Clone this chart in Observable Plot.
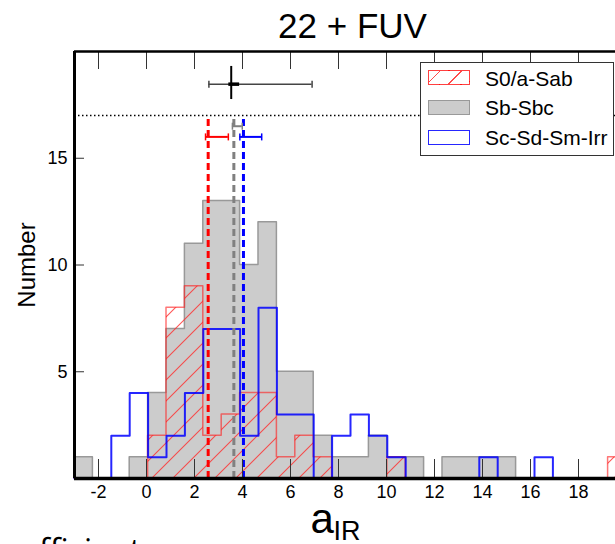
<!DOCTYPE html>
<html>
<head>
<meta charset="utf-8">
<script src="https://cdn.jsdelivr.net/npm/d3@7"></script>
<script src="https://cdn.jsdelivr.net/npm/@observablehq/plot@0.6"></script>
<style>
  html, body { margin: 0; padding: 0; background: #fff; overflow: hidden; }
  #wrap { position: relative; width: 615px; height: 544px; overflow: hidden; font-family: "Liberation Sans", Arial, sans-serif; }
  #legend { position: absolute; left: 420px; top: 62px; width: 192px; height: 92px; border: 1.5px solid #333; background: #fff; }
  .sw { position: absolute; left: 7px; width: 40px; height: 13px; box-sizing: content-box; }
  .lt { position: absolute; left: 64px; font-size: 21px; line-height: 21px; color: #000; white-space: nowrap; }
</style>
</head>
<body>
<div id="wrap"></div>
<script>
// ---- data ----
const binLo = -3, binHi = 20, nBins = 30;           // histogram bin definition
const countsS0 = [0,0,0,0,2,8,9,2,3,4,4,1,2,1,0,0,0,1,0,0,0,0,0,0,0,0,0,0,0,1]; // S0/a-Sab
const countsSb = [1,0,0,1,4,7,11,13,13,10,12,5,5,2,1,1,2,1,1,0,1,1,1,1,0,0,0,0,0,0]; // Sb-Sbc
const countsSc = [0,0,2,4,1,2,4,7,7,2,8,3,3,0,2,3,2,1,0,0,0,0,1,0,0,1,0,0,0,0]; // Sc-Sd-Sm-Irr
const seriesNames = ["S0/a-Sab", "Sb-Sbc", "Sc-Sd-Sm-Irr"];
const medianX = [2.57, 3.64, 4.04];      // S0, Sb, Sc
const errY    = [16, 16.5, 16];
const errLo   = [2.46, 3.58, 3.89];
const errHi   = [3.41, 3.99, 4.80];
const refLineY = [17];
const crossX = [3.53], crossY = [18.47];
const crossXLo = [2.60], crossXHi = [6.90];
const crossInLo = [3.43], crossInHi = [3.88];
const crossYLo = [17.75], crossYHi = [19.30];
const xDomain = [-3, 20], yDomain = [0, 20];
const xTicks = [-2,0,2,4,6,8,10,12,14,16,18];
const xTickLabels = ["-2","0","2","4","6","8","10","12","14","16","18"];
const yTicks = [5,10,15];
const yTickLabels = ["5","10","15"];

const edges = d3.range(nBins + 1).map(i => binLo + i * (binHi - binLo) / nBins);
function stepData(counts) {
  const pts = [{x: edges[0], y: 0}];
  counts.forEach((c, i) => pts.push({x: edges[i], y: c}));
  pts.push({x: edges[nBins], y: counts[nBins - 1]});
  pts.push({x: edges[nBins], y: 0});
  return pts;
}
const capSymbol = {draw(ctx, size) { const h = Math.sqrt(size / Math.PI); ctx.moveTo(0, -h); ctx.lineTo(0, h); }};
const errData = errY.map((y, i) => ({y, lo: errLo[i], hi: errHi[i]}));
const errColors = ["red", "#808080", "blue"];

const marks = [
  Plot.areaY(stepData(countsSb), {x: "x", y: "y", curve: "step-after", fill: "#cccccc", stroke: "#999999", strokeWidth: 1.5}),
  Plot.areaY(stepData(countsS0), {x: "x", y: "y", curve: "step-after", fill: "url(#hatchRed)", stroke: "#ff1a1a", strokeOpacity: 0.6, strokeWidth: 1.5, className: "hatched"}),
  Plot.lineY(stepData(countsSc), {x: "x", y: "y", curve: "step-after", stroke: "blue", strokeOpacity: 0.85, strokeWidth: 2}),
  Plot.ruleY(refLineY, {stroke: "#000", strokeWidth: 1.5, strokeDasharray: "1.5,2.5"})
];
medianX.forEach((m, i) => {
  marks.push(Plot.ruleX([m], {y1: 0, y2: refLineY[0], stroke: errColors[i], strokeWidth: 3, strokeDasharray: "7,4"}));
});
errData.forEach((e, i) => {
  marks.push(Plot.ruleY([e], {y: "y", x1: "lo", x2: "hi", stroke: errColors[i], strokeWidth: 2}));
  marks.push(Plot.dot([e, e], {x: (d, j) => j === 0 ? d.lo : d.hi, y: "y", symbol: capSymbol, r: 3.5, stroke: errColors[i], strokeWidth: 1.5}));
});
// black cross
marks.push(
  Plot.ruleY(crossY, {y: d => d, x1: crossXLo[0], x2: crossXHi[0], stroke: "#444", strokeWidth: 1.5}),
  Plot.dot([crossXLo[0], crossXHi[0]], {x: d => d, y: crossY[0], symbol: capSymbol, r: 3.5, stroke: "#444", strokeWidth: 1.5}),
  Plot.ruleY(crossY, {y: d => d, x1: crossInLo[0], x2: crossInHi[0], stroke: "#000", strokeWidth: 3.5}),
  Plot.ruleX(crossX, {x: d => d, y1: crossYLo[0], y2: crossYHi[0], stroke: "#000", strokeWidth: 2})
);
// ticks & frame
marks.push(
  Plot.tickX(xTicks, {x: d => d, insetTop: 408, stroke: "#333", strokeWidth: 1}),
  Plot.tickX(xTicks, {x: d => d, insetBottom: 409, stroke: "#333", strokeWidth: 1}),
  Plot.tickY(yTicks, {y: d => d, insetRight: 542, stroke: "#333", strokeWidth: 1}),
  Plot.ruleX([xDomain[0]], {stroke: "#000", strokeWidth: 3}),
  Plot.ruleY([yDomain[0]], {stroke: "#000", strokeWidth: 3.5}),
  Plot.ruleY([yDomain[1]], {stroke: "#000", strokeWidth: 2.5}),
  Plot.axisX({anchor: "bottom", ticks: xTicks, tickFormat: d => xTickLabels[xTicks.indexOf(d)], tickSize: 0, tickPadding: 7, fontSize: 18, label: null}),
  Plot.axisY({anchor: "left", ticks: yTicks, tickFormat: d => yTickLabels[yTicks.indexOf(d)], tickSize: 0, tickPadding: 7, fontSize: 18, label: null}),
  Plot.text(["22 + FUV"], {frameAnchor: "top", text: d => d, textAnchor: "middle", lineAnchor: "bottom", dy: -14, dx: 2, fontSize: 35}),
  Plot.text(["Number"], {frameAnchor: "left", text: d => d, textAnchor: "middle", rotate: -90, dx: -47, fontSize: 24}),
  Plot.text(["a"], {frameAnchor: "bottom", text: d => d, textAnchor: "start", lineAnchor: "bottom", dx: -40, dy: 54, fontSize: 42}),
  Plot.text(["IR"], {frameAnchor: "bottom", text: d => d, textAnchor: "start", lineAnchor: "bottom", dx: -17, dy: 61, fontSize: 27}),
  Plot.text(["coefficient"], {frameAnchor: "bottom-left", text: d => d, textAnchor: "start", lineAnchor: "bottom", dx: -88, dy: 83, fontSize: 32, fontFamily: "Open Sans"})
);

const svg = Plot.plot({
  width: 615, height: 544,
  marginLeft: 74, marginRight: -11, marginTop: 51, marginBottom: 66,
  x: {domain: xDomain},
  y: {domain: yDomain},
  style: {fontFamily: "Liberation Sans, Arial, sans-serif", background: "#fff", color: "#000", overflow: "hidden"},
  marks
});

const defs = d3.select(svg).insert("defs", ":first-child");
const pat = defs.append("pattern").attr("id", "hatchRed").attr("patternUnits", "userSpaceOnUse").attr("width", 21).attr("height", 21);
pat.append("path").attr("d", "M-1,1 L1,-1 M0,21 L21,0 M20,22 L22,20").attr("stroke", "#ff2a2a").attr("stroke-opacity", 0.8).attr("stroke-width", 1.1).attr("fill", "none");
d3.select(svg).selectAll(".hatched path").attr("fill", "url(#hatchRed)");

const wrap = document.getElementById("wrap");
wrap.appendChild(svg);

// legend
const legend = document.createElement("div");
legend.id = "legend";
const swStyles = [
  "top:7px;border:1.5px solid rgba(255,0,0,0.75);background:repeating-linear-gradient(-45deg, transparent 0 14px, rgba(255,0,0,0.7) 14px 15px);",
  "top:37px;border:1.5px solid #999;background:#cccccc;",
  "top:67px;border:1.5px solid rgba(0,0,255,0.85);background:#fff;"
];
const textTops = [4.5, 34, 63.5];
seriesNames.forEach((name, i) => {
  const sw = document.createElement("div");
  sw.className = "sw"; sw.style.cssText = swStyles[i];
  legend.appendChild(sw);
  const t = document.createElement("div");
  t.className = "lt"; t.style.top = textTops[i] + "px"; t.textContent = name;
  legend.appendChild(t);
});
wrap.appendChild(legend);
</script>
</body>
</html>
